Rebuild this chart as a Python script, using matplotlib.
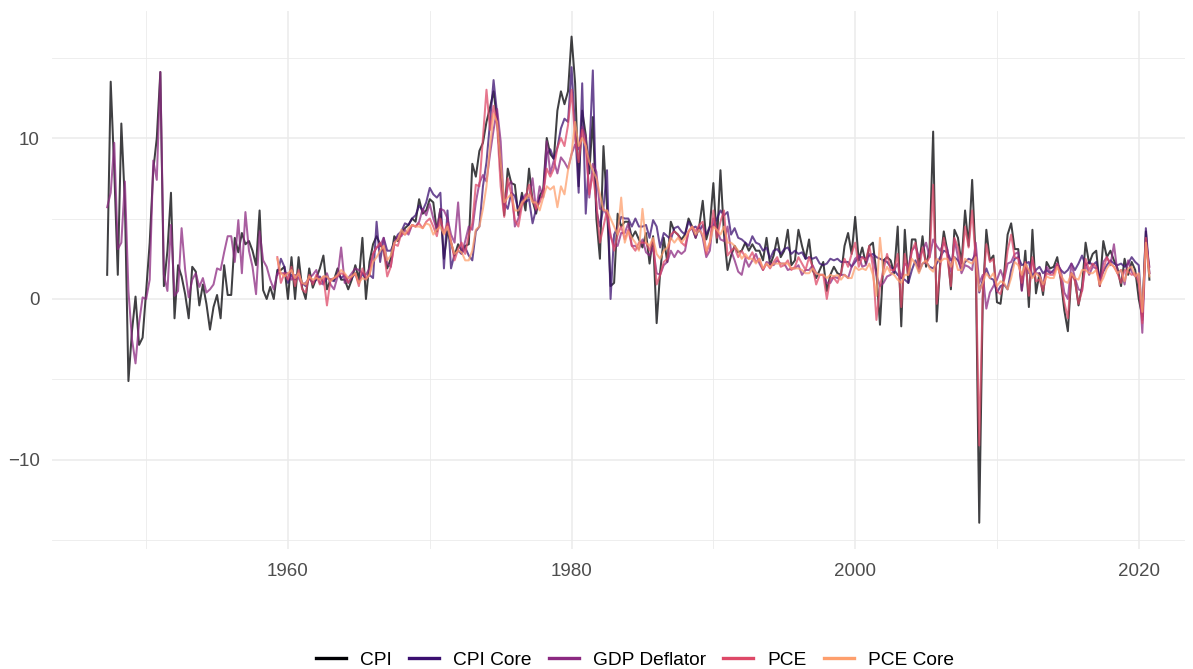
import numpy as np
import matplotlib
matplotlib.use('Agg')
import matplotlib.pyplot as plt
from matplotlib.lines import Line2D

# Quarterly inflation, annualised % change. CPI and GDP deflator start 1947Q2,
# the core/PCE series start 1959Q2.
start_long = 1947.25
start_short = 1959.25

cpi = [
    1.5, 13.5, 8.0,
    1.5, 10.9, 6.0, -5.1,
    -2.0, 0.15, -2.85, -2.4,
    0.5, 3.5, 8.0, 10.0,
    14.1, 0.8, 3.0, 6.6,
    -1.2, 2.1, 1.4, 0.3,
    -1.2, 2.0, 1.7, -0.4,
    0.9, -0.3, -1.9, -0.5,
    0.25, -1.2, 2.1, 0.25,
    0.25, 3.8, 2.9, 4.1,
    3.4, 3.6, 3.0, 2.1,
    5.5, 0.55, 0.0, 0.75,
    0.0, 1.8, 1.8, 2.0,
    # 1960s
    0.0, 2.6, 0.0, 2.6,
    0.7, 0.0, 1.9, 0.7,
    1.3, 1.9, 2.7, 0.6,
    1.2, 1.2, 1.9, 1.2,
    1.2, 0.6, 1.2, 2.1,
    1.2, 3.8, 0.0, 2.3,
    3.4, 3.9, 3.4, 3.0,
    1.9, 2.5, 3.9, 3.6,
    4.1, 4.4, 4.6, 5.0,
    4.8, 6.2, 5.3, 5.5,
    # 1970s
    6.2, 6.0, 4.2, 5.6,
    2.5, 4.2, 3.5, 2.7,
    3.4, 3.0, 3.3, 3.4,
    8.4, 7.6, 9.2, 9.7,
    11.0, 11.9, 12.9, 11.1,
    8.2, 5.2, 8.1, 7.2,
    7.1, 5.2, 6.6, 5.5,
    8.1, 6.1, 5.3, 6.4,
    6.8, 10.0, 9.0, 8.7,
    11.7, 12.9, 12.1, 12.9,
    # 1980s
    16.3, 13.4, 7.0, 11.7,
    10.2, 7.8, 11.3, 5.0,
    2.5, 9.5, 5.7, 0.8,
    1.0, 5.3, 4.5, 4.8,
    4.8, 3.8, 4.2, 3.7,
    3.2, 4.1, 2.2, 3.9,
    -1.5, 1.7, 3.8, 2.3,
    4.8, 4.2, 4.0, 3.7,
    4.0, 5.0, 4.5, 3.8,
    4.5, 6.1, 3.7, 4.5,
    # 1990s
    7.2, 3.5, 8.0, 4.0,
    1.8, 2.7, 3.3, 2.9,
    3.0, 3.5, 3.0, 3.4,
    3.0, 3.0, 2.4, 3.8,
    2.1, 2.7, 3.8, 2.6,
    3.0, 4.3, 2.1, 2.4,
    4.3, 3.3, 2.5, 3.7,
    1.8, 1.3, 1.8, 2.3,
    0.5, 1.5, 2.0, 1.6,
    1.5, 3.3, 4.1, 2.8,
    # 2000s
    5.1, 2.4, 3.2, 2.2,
    3.3, 3.5, 1.6, -1.6,
    2.4, 2.6, 2.4, 1.6,
    4.5, -1.7, 4.3, 1.0,
    3.7, 3.7, 2.0, 3.9,
    2.0, 3.2, 10.4, -1.4,
    2.3, 4.2, 3.0, 0.6,
    4.3, 3.8, 2.2, 5.5,
    3.3, 7.4, 2.5, -13.9,
    0.1, 4.3, 2.4, 2.7,
    # 2010s
    -0.2, -0.3, 1.5, 4.0,
    4.7, 3.1, 3.1, 0.55,
    3.0, -0.5, 4.3, 0.35,
    1.6, 0.25, 2.3, 1.9,
    2.0, 2.6, 1.2, -0.7,
    -2.0, 1.6, 1.2, -0.4,
    0.8, 3.5, 2.2, 2.8,
    3.0, 0.8, 3.6, 2.6,
    3.0, 2.4, 1.9, 0.8,
    2.5, 1.5, 2.3, 1.8,
    0.0, -1.1, 4.2, 1.2,
]

cpi_core = [
    1.5, 2.5, 2.0,
    1.0, 1.5, 1.2, 1.6,
    1.0, 0.8, 1.3, 1.0,
    1.2, 1.4, 1.0, 1.3,
    1.2, 1.1, 1.6, 1.3,
    1.5, 1.0, 1.3, 1.6,
    1.0, 1.6, 1.2, 1.5,
    1.3, 4.8, 2.3, 3.8,
    3.0, 3.0, 3.5, 4.0,
    4.2, 4.7, 4.6, 5.0,
    5.2, 5.8, 5.5, 6.0,
    6.9, 6.5, 6.3, 6.6,
    1.9, 5.5, 1.9, 2.8,
    3.0, 2.8, 3.2, 2.7,
    2.4, 4.2, 4.5, 7.0,
    8.5, 11.0, 13.6, 11.5,
    8.0, 6.0, 5.6, 6.6,
    6.4, 5.5, 6.4, 6.0,
    6.2, 4.7, 5.6, 6.3,
    6.4, 9.0, 9.3, 8.7,
    9.4, 10.6, 11.2, 11.0,
    14.4, 10.5, 6.6, 13.4,
    5.3, 9.0, 14.2, 5.5,
    4.5, 5.7, 8.0, 0.0,
    4.0, 4.5, 5.1, 5.0,
    5.0, 4.5, 5.0, 4.5,
    4.5, 4.6, 3.8, 4.9,
    4.5, 3.2, 4.1, 3.9,
    3.7, 4.4, 4.5, 4.2,
    4.0, 4.8, 4.4, 4.5,
    4.2, 4.6, 4.0, 4.5,
    4.5, 5.0, 5.5, 5.2,
    5.4, 4.0, 4.4, 3.8,
    3.7, 3.5, 3.3, 3.9,
    3.5, 3.4, 3.0, 3.2,
    2.5, 3.0, 3.1, 2.8,
    3.1, 3.2, 2.8, 3.0,
    2.8, 2.9, 2.5, 2.6,
    2.5, 2.6, 2.2, 2.1,
    2.2, 2.5, 2.4, 2.5,
    2.3, 2.3, 2.3, 2.0,
    2.3, 2.6, 2.6, 2.5,
    2.7, 2.8, 2.6, 2.5,
    2.4, 2.3, 2.0, 1.8,
    1.5, 1.3, 1.2, 1.0,
    1.8, 2.4, 1.7, 2.2,
    2.3, 2.0, 1.9, 2.2,
    2.6, 3.0, 2.9, 2.4,
    2.6, 2.4, 1.9, 2.3,
    2.5, 2.4, 2.8, 0.4,
    1.2, 1.9, 1.3, 1.2,
    0.4, 0.8, 0.9, 0.6,
    1.8, 2.5, 2.6, 2.1,
    2.2, 2.3, 1.4, 1.8,
    2.0, 1.6, 1.8, 1.6,
    1.8, 2.2, 1.8, 1.6,
    1.8, 2.2, 1.8, 2.2,
    2.7, 2.1, 2.3, 2.1,
    2.3, 1.2, 1.7, 2.1,
    2.4, 2.2, 2.1, 2.2,
    2.0, 2.2, 2.6, 2.3,
    2.1, -1.3, 4.4, 1.6,
]

gdp_deflator = [
    5.7, 6.6, 9.7,
    3.1, 3.5, 7.3, 0.5,
    -2.5, -4.0, -1.5, 0.1,
    0.0, 1.2, 8.6, 7.4,
    14.1, 1.5, 0.5, 4.6,
    0.2, 0.5, 4.4, 1.8,
    0.1, 1.2, 1.6, 0.75,
    1.3, 0.4, 0.6, 0.9,
    1.9, 1.8, 2.9, 3.9,
    3.9, 2.3, 4.9, 1.6,
    5.4, 3.0, 2.0, 0.3,
    4.2, 2.4, 2.0, 1.2,
    0.6, 1.6, 1.6, 1.6,
    # 1960s
    1.6, 1.2, 1.5, 1.3,
    0.9, 1.0, 1.3, 1.5,
    1.8, 1.0, 0.9, 1.6,
    0.9, 0.6, 1.4, 3.2,
    1.0, 1.3, 1.6, 1.9,
    1.8, 1.6, 1.5, 1.9,
    2.8, 3.2, 3.3, 3.8,
    2.2, 2.0, 3.5, 3.9,
    3.9, 4.3, 4.0, 4.6,
    4.5, 4.8, 5.6, 5.2,
    # 1970s
    5.9, 5.0, 4.3, 5.6,
    5.5, 5.0, 4.0, 3.5,
    6.0, 2.8, 3.6, 4.5,
    4.3, 6.0, 7.2, 7.7,
    7.3, 9.0, 10.5, 11.8,
    9.8, 5.5, 7.0, 7.3,
    4.5, 5.0, 6.0, 6.5,
    6.3, 7.5, 5.5, 7.0,
    6.3, 9.8, 7.8, 8.6,
    7.8, 8.8, 8.5, 8.1,
    # 1980s
    9.0, 9.6, 9.3, 10.7,
    10.1, 6.3, 8.4, 7.9,
    5.6, 5.6, 5.2, 3.9,
    3.3, 3.3, 4.1, 4.1,
    4.7, 3.3, 3.3, 3.1,
    3.7, 2.9, 2.7, 3.2,
    1.6, 1.5, 2.1, 2.3,
    3.0, 2.6, 3.0, 2.8,
    3.0, 4.2, 4.4, 3.8,
    4.5, 3.8, 2.6, 3.0,
    # 1990s
    5.0, 4.3, 3.7, 3.6,
    4.5, 3.0, 2.4, 1.7,
    1.5, 2.5, 2.0, 2.4,
    2.8, 2.2, 1.8, 2.3,
    2.2, 2.1, 2.4, 2.2,
    2.2, 1.8, 1.9, 1.9,
    2.1, 1.5, 1.8, 1.8,
    2.1, 1.6, 1.5, 1.5,
    1.0, 1.0, 1.4, 1.3,
    1.5, 1.5, 1.3, 2.0,
    # 2000s
    2.5, 2.7, 2.0, 2.1,
    2.8, 2.6, 1.5, 0.8,
    1.0, 1.4, 1.5, 1.8,
    2.2, 1.3, 2.2, 2.0,
    3.0, 3.3, 2.6, 3.0,
    3.5, 2.6, 3.7, 3.3,
    3.0, 3.5, 3.1, 1.7,
    3.7, 2.6, 1.6, 2.1,
    2.0, 1.8, 3.5, 1.0,
    1.5, -0.6, 0.4, 0.8,
    # 2010s
    1.2, 1.8, 1.2, 2.2,
    2.3, 2.8, 2.9, 0.5,
    2.2, 1.6, 2.4, 1.6,
    1.6, 0.8, 2.0, 1.7,
    1.6, 2.2, 1.8, 0.4,
    0.0, 2.2, 1.3, 0.6,
    0.5, 2.2, 1.5, 2.0,
    1.9, 1.1, 2.3, 2.6,
    2.1, 3.4, 1.6, 1.8,
    0.9, 2.4, 1.7, 1.4,
    1.5, -2.1, 3.5, 2.0,
]

pce = [
    2.6, 1.0, 1.6,
    1.2, 2.0, 0.8, 1.8,
    0.6, 0.4, 1.5, 0.9,
    1.5, 0.9, 1.4, -0.4,
    1.2, 1.3, 1.4, 1.6,
    1.5, 1.0, 1.4, 1.6,
    0.8, 1.9, 1.3, 1.5,
    2.8, 3.2, 3.5, 3.0,
    1.4, 2.0, 3.4, 3.3,
    4.1, 4.0, 4.2, 4.6,
    4.5, 4.7, 4.4, 4.8,
    5.0, 4.5, 3.9, 5.0,
    4.1, 4.7, 3.6, 2.4,
    3.1, 3.5, 2.8, 4.0,
    4.7, 7.1, 7.0, 10.0,
    13.0, 10.5, 12.0, 10.8,
    7.0, 5.1, 7.5, 6.5,
    4.9, 4.5, 5.8, 6.3,
    7.1, 6.2, 5.6, 6.0,
    6.6, 8.1, 7.6, 8.1,
    9.4, 10.0, 9.5, 10.8,
    13.0, 10.0, 8.5, 10.5,
    9.5, 6.5, 7.8, 6.0,
    3.5, 4.5, 5.5, 4.0,
    3.0, 4.0, 4.5, 3.7,
    4.3, 3.3, 3.0, 3.5,
    3.5, 3.5, 3.0, 3.7,
    0.9, 1.5, 2.3, 2.5,
    4.0, 4.2, 4.0, 3.5,
    3.3, 4.2, 4.5, 4.2,
    4.6, 4.8, 2.8, 3.5,
    5.5, 3.8, 4.8, 5.5,
    2.7, 3.0, 3.2, 2.6,
    3.0, 2.6, 2.5, 2.9,
    2.3, 2.5, 1.8, 2.2,
    1.9, 2.3, 2.6, 2.0,
    2.1, 2.4, 1.8, 2.0,
    2.6, 2.2, 1.8, 2.6,
    2.0, 0.9, 1.5, 1.5,
    0.0, 1.3, 1.3, 1.0,
    1.6, 2.5, 2.0, 2.8,
    3.5, 2.0, 2.6, 2.4,
    3.3, 2.0, -1.3, 0.8,
    1.8, 2.8, 1.8, 1.8,
    2.8, -0.5, 2.8, 1.5,
    3.0, 3.5, 1.8, 3.2,
    2.2, 2.6, 7.1, -0.3,
    2.0, 3.8, 2.6, 0.8,
    3.8, 3.2, 2.0, 4.5,
    3.2, 5.5, 2.5, -9.1,
    0.5, 3.4, 2.3, 2.5,
    0.5, 0.3, 1.2, 3.0,
    4.0, 2.6, 2.5, 1.0,
    2.3, 0.2, 2.6, 1.1,
    1.2, 0.5, 1.6, 1.5,
    1.5, 2.2, 1.3, -0.2,
    -1.2, 1.6, 1.1, -0.3,
    0.5, 2.5, 1.8, 2.2,
    2.0, 0.8, 1.8, 2.6,
    2.2, 2.0, 1.6, 1.0,
    1.8, 1.7, 1.5, 1.6,
    1.0, -1.5, 3.8, 1.6,
]

pce_core = [
    2.5, 1.6, 1.4,
    1.6, 1.8, 1.3, 1.6,
    1.0, 0.9, 1.4, 1.2,
    1.3, 1.2, 1.4, 1.4,
    1.1, 1.3, 1.5, 1.8,
    1.6, 1.3, 1.4, 1.6,
    1.0, 1.3, 1.2, 1.5,
    2.3, 2.6, 3.0, 3.3,
    2.4, 2.7, 3.5, 3.7,
    4.3, 4.0, 4.4, 4.6,
    4.5, 4.5, 4.4, 4.7,
    4.6, 4.0, 4.3, 4.5,
    4.0, 4.5, 3.5, 2.8,
    3.0, 2.9, 2.4, 2.4,
    3.0, 4.3, 4.5, 5.6,
    7.0, 9.5, 11.5, 11.0,
    8.5, 6.0, 6.3, 6.5,
    5.5, 5.5, 6.0, 6.2,
    6.5, 6.0, 6.0, 5.5,
    6.3, 7.0, 6.8, 7.0,
    5.7, 7.0, 6.5, 8.0,
    9.0, 11.0, 9.5, 10.0,
    9.5, 8.5, 8.0, 7.5,
    6.5, 5.5, 5.5, 5.0,
    4.5, 4.0, 6.3, 3.5,
    4.2, 3.8, 3.5, 3.0,
    5.6, 3.5, 3.3, 3.8,
    2.8, 2.5, 3.0, 3.2,
    3.8, 3.5, 3.8, 3.5,
    3.8, 4.2, 4.5, 4.0,
    4.3, 4.0, 3.0, 3.5,
    4.5, 4.3, 4.0, 4.5,
    3.5, 3.5, 3.3, 3.0,
    2.5, 2.8, 2.5, 2.5,
    2.2, 2.5, 1.9, 2.2,
    2.0, 2.2, 2.2, 2.2,
    2.2, 2.2, 1.9, 1.9,
    1.9, 1.8, 1.6, 1.6,
    1.9, 1.6, 1.5, 1.5,
    1.3, 1.5, 1.4, 1.5,
    1.2, 1.5, 1.3, 1.3,
    2.0, 1.8, 1.9, 1.8,
    2.2, 1.5, 0.2, 3.8,
    1.5, 2.0, 1.6, 1.5,
    1.2, 1.0, 1.5, 1.5,
    2.5, 2.2, 1.6, 2.2,
    2.4, 1.9, 1.7, 2.5,
    2.3, 2.5, 2.5, 2.0,
    2.6, 1.8, 1.8, 2.5,
    2.3, 2.2, 2.6, 0.5,
    1.0, 1.6, 1.3, 1.6,
    0.8, 1.1, 1.0, 0.6,
    1.3, 2.3, 2.1, 1.5,
    2.2, 1.8, 1.3, 1.6,
    1.4, 0.9, 1.4, 1.3,
    1.3, 2.0, 1.5, 1.1,
    1.0, 1.6, 1.3, 1.2,
    1.8, 1.8, 1.6, 1.6,
    1.8, 0.9, 1.3, 1.9,
    2.2, 2.0, 1.6, 1.8,
    1.1, 1.9, 2.0, 1.4,
    1.6, -0.8, 3.5, 1.4,
]

series_names = ['CPI', 'CPI Core', 'GDP Deflator', 'PCE', 'PCE Core']
series_values = [cpi, cpi_core, gdp_deflator, pce, pce_core]
series_start = [start_long, start_short, start_long, start_short, start_short]
# magma palette, begin 0 / end 0.8
palette = ['#000004', '#3B0F70', '#8C2981', '#DE4968', '#FE9F6D']

plt.rcParams['font.family'] = ['Liberation Sans', 'DejaVu Sans']

fig = plt.figure(figsize=(11.93, 6.69), dpi=100)
ax = fig.add_axes([52 / 1193, 120 / 669, 1133 / 1193, 538 / 669])

for name, vals, t0, col in zip(series_names, series_values, series_start, palette):
    vals = np.asarray(vals, dtype=float)
    t = t0 + 0.25 * np.arange(len(vals))
    ax.plot(t, vals, color=col, lw=1.45, alpha=0.75, label=name,
            solid_joinstyle='round', zorder=3)

ax.set_xlim(1943.36, 2023.26)
ax.set_ylim(-15.53, 17.89)
ax.set_xticks([1960, 1980, 2000, 2020])
ax.set_xticks([1950, 1970, 1990, 2010], minor=True)
ax.set_yticks([-10, 0, 10])
ax.set_yticks([-15, -5, 5, 15], minor=True)

ax.grid(which='major', color='#EBEBEB', lw=1.1, zorder=0)
ax.grid(which='minor', color='#EBEBEB', lw=0.6, zorder=0)
for s in ax.spines.values():
    s.set_visible(False)
ax.tick_params(which='both', length=0)
ax.tick_params(axis='x', pad=10, labelsize=13.5, labelcolor='#4D4D4D')
ax.tick_params(axis='y', pad=9, labelsize=13.5, labelcolor='#4D4D4D')

handles = [Line2D([0], [0], color=c, lw=2.4) for c in palette]
fig.legend(handles, series_names, loc='center', ncol=5,
           bbox_to_anchor=(635 / 1193, 9 / 669), frameon=False,
           fontsize=13.8, handlelength=1.55, handletextpad=0.75,
           columnspacing=0.9, borderaxespad=0)

fig.savefig('out.png', dpi=100)
